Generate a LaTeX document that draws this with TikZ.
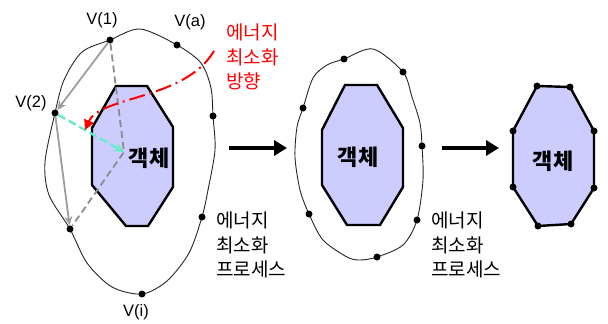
\documentclass[tikz,border=0pt]{standalone}
\usepackage{fontspec}
\setmainfont{Liberation Sans}
\newfontfamily\kr{Noto Sans CJK KR}
\usetikzlibrary{arrows.meta}
\definecolor{objfill}{RGB}{204,204,255}
\definecolor{teal2}{RGB}{100,238,200}
\definecolor{grayln}{RGB}{140,140,140}
\begin{document}
\begin{tikzpicture}[x=1pt,y=-1pt,
  dot/.style={circle,fill=black,inner sep=0pt,minimum size=7pt},
  contour/.style={draw=black!85,line width=0.9pt},
  obj/.style={draw=black,line width=2.4pt,fill=objfill,line join=miter},
  objtext/.style={font=\kr\bfseries\fontsize{22}{26}\selectfont},
  vlabel/.style={font=\fontsize{16.5}{19}\selectfont,inner sep=0pt},
  ktext/.style={font=\kr\fontsize{19}{24.5}\selectfont,align=left,inner sep=0pt,anchor=north west},
  grayarrow/.style={draw=grayln!85,line width=1.8pt,-{Stealth[length=9pt,width=8pt]}},
  graydash/.style={draw=grayln,line width=1.8pt,dash pattern=on 7pt off 4pt},
  bigarrow/.style={draw=black,line width=3.5pt,-{Triangle[length=13pt,width=15pt]}}
]
\useasboundingbox (0,0) rectangle (608,324);

% ---------- panel 1 ----------
\draw[contour] plot[smooth cycle] coordinates {(110,40) (140,29) (177,45) (201,63) (211,88) (213,116) (215,150) (208,190) (202,217) (189,253) (167,281) (142,294) (112,287) (87,263) (70,229) (49,195) (45,162) (55,113) (64,80) (82,52)};
\draw[obj] (116,86) -- (147,86) -- (173,127) -- (173,187) -- (148,226) -- (126,226) -- (92,185) -- (92,128) -- cycle;

\node[dot] (v1) at (110,40) {};
\node[dot] (va) at (177,45) {};
\node[dot] (vr) at (213,116) {};
\node[dot] (vlr) at (202,217) {};
\node[dot] (vi) at (142,294) {};
\node[dot] (vlo) at (70,229) {};
\node[dot] (v2) at (55,113) {};
\coordinate (c) at (124,152);

\draw[graydash] (v1) -- (c) -- (vlo);
\draw[grayarrow] (v1) -- (v2);
\draw[grayarrow] (v2) -- (vlo);
\draw[draw=teal2,line width=2.4pt,dash pattern=on 8pt off 4pt,-{Stealth[length=10pt,width=9pt]}] (v2) -- (c);

\coordinate (rs) at (214,51);
\coordinate (re) at (85,130);
\draw[red,line width=2pt,dash pattern=on 16pt off 5pt on 2pt off 5pt,-{Triangle[length=10pt,width=10pt]}] (rs) .. controls (185,100) and (100,96) .. (re);

\node[objtext] (o1) at (149,158) {객체};

\node[vlabel] (l1) at (102,20) {V(1)};
\node[vlabel] (la) at (190,22) {V(a)};
\node[vlabel] (l2) at (31,103) {V(2)};
\node[vlabel] (li) at (136,312) {V(i)};

\node[ktext,text=red] (rt) at (226,24) {에너지\\최소화\\방향};
\node[ktext] (t1) at (216,212) {에너지\\최소화\\프로세스};

% ---------- arrows ----------
\coordinate (a1s) at (229,148);
\coordinate (a1e) at (287,148);
\draw[bigarrow] (a1s) -- (a1e);
\coordinate (a2s) at (442,148);
\coordinate (a2e) at (499,148);
\draw[bigarrow] (a2s) -- (a2e);

% ---------- panel 2 ----------
\draw[contour] plot[smooth cycle] coordinates {(344,59) (373,49) (403,72) (412,97) (420,123) (422,146) (423,180) (417,220) (403,245) (377,257) (360,260) (347,257) (323,240) (309,214) (300,190) (295,157) (297,127) (303,108) (313,78) (327,65)};
\draw[obj] (345,85) -- (377,85) -- (403,128) -- (403,187) -- (380,225) -- (347,225) -- (322,185) -- (322,130) -- cycle;
\node[dot] (b1) at (344,59) {};
\node[dot] (b2) at (403,72) {};
\node[dot] (b3) at (422,146) {};
\node[dot] (b4) at (417,220) {};
\node[dot] (b5) at (377,257) {};
\node[dot] (b6) at (309,214) {};
\node[dot] (b7) at (303,108) {};
\node[objtext] (o2) at (358,157) {객체};
\node[ktext] (t2) at (431,212) {에너지\\최소화\\프로세스};

% ---------- panel 3 ----------
\coordinate (p1) at (537,86);
\coordinate (p2) at (570,87);
\coordinate (p3) at (594,131);
\coordinate (p4) at (594,188);
\coordinate (p5) at (571,224);
\coordinate (p6) at (538,226);
\coordinate (p7) at (513,187);
\coordinate (p8) at (513,131);
\draw[obj] (p1) -- (p2) -- (p3) -- (p4) -- (p5) -- (p6) -- (p7) -- (p8) -- cycle;
\foreach \p in {p1,p2,p3,p4,p5,p6,p7,p8} \node[dot] (d\p) at (\p) {};
\node[objtext] (o3) at (553,161) {객체};
\end{tikzpicture}
\end{document}
